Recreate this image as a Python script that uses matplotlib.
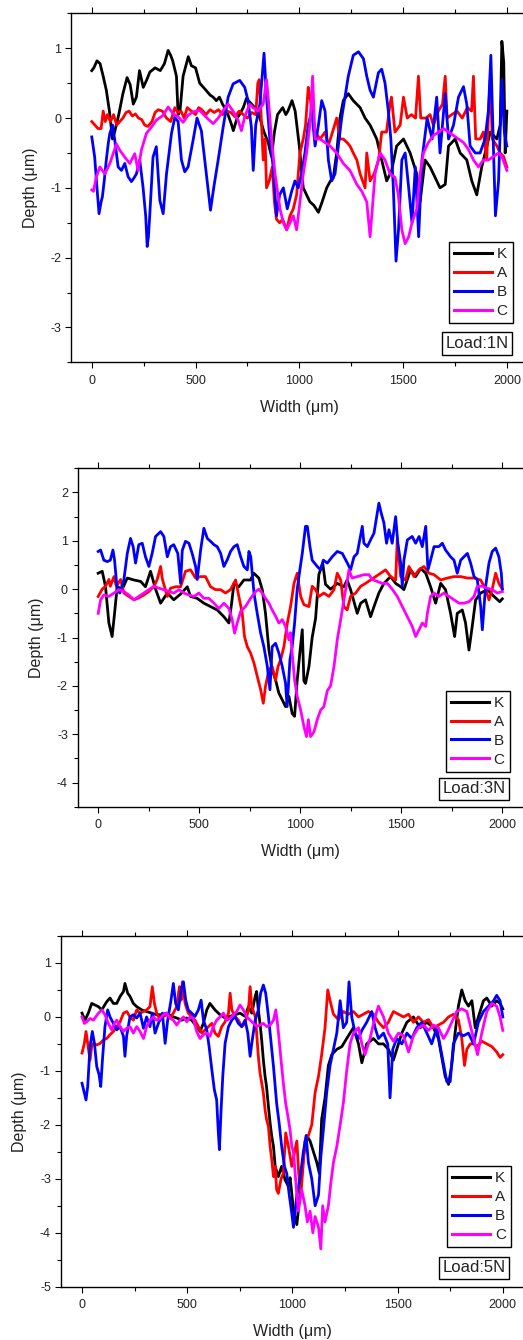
import numpy as np
import matplotlib
matplotlib.use('Agg')
import matplotlib.pyplot as plt
from matplotlib.ticker import MultipleLocator

plt.rcParams['font.family'] = ['Liberation Sans', 'DejaVu Sans']
plt.rcParams['axes.unicode_minus'] = False

# ---- profiles: (width um, depth um) ----
# Load 1N
p1_K = [(0,0.68),(10,0.72),(25,0.82),(40,0.78),(55,0.6),(70,0.4),(85,0.1),(100,-0.3),(110,-0.2),(130,0.05),
        (150,0.35),(170,0.58),(185,0.48),(200,0.2),(215,0.3),(230,0.68),(248,0.44),(265,0.55),(280,0.66),(305,0.72),
        (330,0.68),(350,0.78),(368,0.97),(380,0.9),(390,0.82),(408,0.6),(416,0.05),(425,0.1),(440,0.6),(465,0.88),
        (480,0.75),(500,0.72),(520,0.5),(550,0.4),(570,0.33),(585,0.3),(600,0.25),(615,0.3),(630,0.2),(650,0.1),
        (672,-0.08),(682,-0.18),(700,0.0),(712,0.05),(730,0.15),(745,0.28),(770,0.2),(800,0.1),(830,-0.2),(850,-0.35),
        (866,-0.55),(880,-0.2),(895,0.05),(920,0.15),(935,0.05),(945,0.1),(965,0.25),(980,0.1),(1000,-0.4),(1019,-1.0),
        (1035,-1.1),(1051,-1.2),(1070,-1.25),(1092,-1.35),(1110,-1.2),(1132,-1.0),(1150,-0.9),(1164,-0.85),(1180,-0.5),
        (1196,0.0),(1212,0.25),(1236,0.35),(1260,0.25),(1293,0.15),(1317,0.0),(1341,-0.1),(1373,-0.3),(1397,-0.6),
        (1421,-0.9),(1445,-0.75),(1469,-0.4),(1502,-0.3),(1534,-0.5),(1566,-0.8),(1582,-1.2),(1606,-0.6),(1630,-0.7),
        (1654,-0.85),(1678,-1.0),(1703,-0.95),(1719,-0.4),(1751,-0.3),(1775,-0.5),(1807,-0.6),(1831,-0.9),(1855,-1.1),
        (1879,-0.7),(1920,-0.2),(1952,-0.3),(1968,-0.1),(1976,1.1),(1985,0.8),(1992,-0.5),(2000,0.1)]
p1_A = [(0,-0.05),(15,-0.1),(30,-0.15),(45,-0.15),(55,0.1),(65,-0.05),(75,0.05),(90,-0.05),(105,0.05),(120,-0.1),
        (135,-0.05),(150,0.0),(165,0.08),(180,0.1),(195,0.03),(210,0.06),(225,0.0),(240,-0.02),(255,-0.1),(270,-0.12),
        (290,-0.05),(305,0.08),(320,0.12),(340,0.1),(360,0.0),(380,-0.05),(400,0.15),(415,0.08),(430,0.1),(445,0.0),
        (460,0.15),(480,0.1),(500,0.05),(515,0.15),(530,0.12),(550,0.05),(570,0.12),(590,0.08),(610,0.12),(630,0.05),
        (650,0.1),(670,0.08),(690,0.02),(710,0.1),(730,0.05),(750,0.0),(770,0.08),(790,0.05),(800,0.5),(807,0.55),
        (815,0.1),(826,-0.6),(835,-0.3),(842,-1.0),(855,-0.9),(870,-0.7),(880,-1.2),(890,-1.45),(905,-1.5),(920,-1.45),
        (939,-1.6),(955,-1.4),(971,-1.3),(987,-1.1),(1003,-0.5),(1019,-0.3),(1030,-0.1),(1043,0.44),(1051,0.3),(1060,0.16),
        (1076,-0.2),(1100,-0.3),(1124,-0.2),(1139,-0.4),(1160,-0.2),(1180,0.0),(1196,-0.3),(1212,-0.3),(1230,-0.35),
        (1244,-0.4),(1260,-0.5),(1277,-0.6),(1293,-0.8),(1317,-1.0),(1325,-0.5),(1341,-0.9),(1360,-0.8),(1382,-0.6),
        (1397,-0.2),(1420,-0.2),(1437,0.2),(1444,0.3),(1461,-0.2),(1486,-0.1),(1502,0.3),(1520,0.0),(1540,0.05),
        (1560,0.0),(1574,0.6),(1585,0.0),(1610,0.0),(1630,0.05),(1646,-0.1),(1670,0.1),(1690,0.2),(1703,0.6),(1712,0.0),
        (1735,0.05),(1760,0.1),(1785,0.0),(1810,0.15),(1830,0.1),(1839,0.6),(1850,-0.3),(1871,-0.3),(1887,-0.2),
        (1903,-0.6),(1912,0.1),(1920,0.55),(1930,-0.3),(1952,-0.4),(1968,-0.5),(1984,-0.55),(2000,-0.7)]
p1_B = [(0,-0.27),(14,-0.56),(25,-1.0),(35,-1.37),(45,-1.2),(51,-1.13),(60,-0.9),(70,-0.6),(80,-0.35),(87,-0.22),
        (100,-0.1),(111,-0.32),(127,-0.7),(143,-0.75),(159,-0.65),(175,-0.84),(191,-0.91),(205,-0.85),(215,-0.8),
        (231,-0.6),(247,-0.99),(260,-1.41),(267,-1.84),(273,-1.7),(279,-1.41),(295,-0.56),(311,-0.41),(328,-1.18),
        (344,-1.37),(360,-0.8),(384,-0.22),(400,0.01),(416,-0.05),(432,-0.6),(448,-0.77),(464,-0.7),(488,-0.32),
        (507,0.0),(528,-0.18),(552,-0.8),(572,-1.32),(588,-0.99),(609,-0.6),(633,-0.13),(657,0.3),(681,0.49),(700,0.52),
        (713,0.54),(737,0.44),(753,0.25),(769,-0.13),(778,-0.75),(790,-0.1),(810,0.2),(830,0.93),(842,0.3),(858,-0.3),
        (874,-0.7),(890,-1.4),(905,-1.1),(923,-1.0),(942,-1.3),(963,-1.05),(979,-0.9),(995,-1.0),(1011,-0.8),(1027,-0.5),
        (1043,-0.1),(1060,0.1),(1076,-0.4),(1092,-0.1),(1108,0.25),(1124,0.1),(1140,-0.6),(1156,-0.9),(1172,-0.8),
        (1188,-0.4),(1204,0.0),(1220,0.3),(1236,0.6),(1260,0.9),(1285,0.95),(1309,0.85),(1325,0.6),(1341,0.4),(1357,0.3),
        (1381,0.65),(1397,0.7),(1413,0.5),(1429,0.1),(1441,-0.3),(1453,-1.0),(1466,-2.05),(1478,-1.6),(1494,-0.6),
        (1510,-0.5),(1527,-1.0),(1543,-1.5),(1559,-0.7),(1575,-1.7),(1591,-0.6),(1616,0.0),(1640,-0.3),(1662,0.3),
        (1678,-0.5),(1703,0.35),(1719,-0.3),(1743,-0.1),(1767,0.3),(1791,0.45),(1807,0.2),(1823,-0.4),(1848,-0.5),
        (1871,-0.5),(1895,-0.3),(1911,0.1),(1923,0.9),(1936,-0.5),(1945,-1.4),(1960,-0.9),(1976,0.55),(1988,-0.2),
        (2000,-0.4)]
p1_C = [(0,-1.03),(8,-1.05),(22,-0.84),(39,-0.7),(63,-0.8),(87,-0.65),(103,-0.51),(119,-0.37),(135,-0.46),(159,-0.56),
        (183,-0.65),(207,-0.51),(223,-0.75),(239,-0.46),(263,-0.22),(287,-0.13),(311,-0.03),(344,0.04),(368,0.16),
        (392,0.06),(416,0.02),(440,-0.06),(464,0.04),(488,0.09),(520,0.11),(552,0.01),(585,-0.08),(609,0.0),(633,0.11),
        (657,0.2),(681,0.1),(705,-0.03),(721,-0.18),(737,0.02),(761,0.2),(777,0.15),(800,0.1),(826,0.2),(842,0.55),
        (850,0.3),(866,-0.3),(883,-0.8),(907,-1.3),(923,-1.5),(939,-1.6),(955,-1.5),(971,-1.4),(987,-1.6),(1003,-1.2),
        (1019,-0.8),(1035,-0.5),(1051,-0.1),(1064,0.6),(1076,-0.3),(1100,-0.3),(1124,-0.35),(1148,-0.4),(1180,-0.5),
        (1212,-0.65),(1244,-0.75),(1277,-0.95),(1301,-1.05),(1325,-1.2),(1341,-1.7),(1349,-1.4),(1365,-0.8),(1389,-0.5),
        (1413,-0.6),(1437,-0.8),(1461,-0.85),(1477,-1.1),(1494,-1.6),(1510,-1.8),(1527,-1.7),(1543,-1.5),(1566,-1.3),
        (1582,-0.8),(1598,-0.5),(1622,-0.35),(1646,-0.25),(1670,-0.2),(1695,-0.15),(1719,-0.2),(1743,-0.25),(1767,-0.3),
        (1791,-0.35),(1815,-0.45),(1839,-0.6),(1863,-0.7),(1887,-0.6),(1911,-0.6),(1936,-0.55),(1960,-0.5),(1976,-0.55),
        (2000,-0.75)]

# Load 3N
p2_K = [(0,0.33),(20,0.37),(36,0.06),(53,-0.7),(69,-0.98),(81,-0.5),(94,0.05),(119,0.0),(144,0.23),(177,0.19),
        (210,0.16),(234,0.05),(259,0.37),(284,0.0),(309,-0.29),(342,-0.08),(374,-0.22),(408,-0.1),(441,0.05),(457,-0.15),
        (490,-0.19),(523,-0.29),(556,-0.36),(589,-0.43),(622,-0.57),(647,-0.7),(660,-0.3),(672,0.12),(696,0.05),(721,0.19),
        (754,0.19),(770,0.33),(795,0.23),(812,-0.01),(828,-0.5),(845,-1.26),(861,-1.67),(878,-1.88),(894,-2.15),
        (911,-2.29),(927,-2.43),(944,-2.22),(960,-2.57),(972,-2.63),(985,-1.88),(998,-1.32),(1010,-0.84),(1018,-1.9),
        (1026,-1.95),(1043,-1.6),(1059,-1.0),(1076,-0.6),(1092,0.3),(1111,0.54),(1125,0.1),(1150,0.0),(1183,0.12),
        (1216,0.05),(1232,0.19),(1249,-0.01),(1282,-0.5),(1299,-0.29),(1323,-0.22),(1348,-0.57),(1365,-0.36),(1389,-0.08),
        (1414,0.12),(1447,0.26),(1472,0.12),(1497,0.05),(1513,-0.01),(1546,0.4),(1571,0.26),(1596,0.43),(1621,0.33),
        (1645,0.05),(1670,-0.29),(1695,0.12),(1719,-0.01),(1744,-0.5),(1764,-0.98),(1777,-0.5),(1802,-0.43),(1818,-0.7),
        (1835,-1.26),(1851,-0.77),(1868,-0.22),(1893,-0.08),(1926,-0.01),(1959,-0.15),(1987,-0.26),(2000,-0.2)]
p2_A = [(0,-0.15),(20,0.0),(36,0.06),(53,0.2),(60,0.06),(78,0.26),(90,0.06),(111,0.2),(127,-0.08),(152,-0.15),
        (177,-0.22),(201,-0.18),(226,-0.12),(251,-0.05),(276,0.06),(292,0.2),(309,0.47),(318,0.2),(342,-0.15),(358,0.02),
        (383,0.05),(408,0.05),(432,0.37),(457,0.4),(482,0.23),(507,0.26),(531,0.26),(556,0.05),(581,-0.01),(606,-0.01),
        (630,-0.08),(655,-0.01),(680,0.19),(696,-0.15),(713,-0.5),(724,-0.98),(738,-1.19),(754,-1.32),(771,-1.53),
        (787,-1.8),(804,-2.08),(817,-2.36),(828,-2.01),(845,-1.67),(861,-1.6),(878,-1.88),(890,-1.6),(903,-1.46),
        (919,-1.19),(936,-0.7),(952,-0.36),(969,0.12),(985,0.33),(1002,-0.15),(1018,-0.32),(1043,-0.36),(1059,0.06),
        (1076,-0.01),(1092,-0.15),(1117,-0.08),(1142,-0.15),(1167,-0.01),(1183,0.33),(1200,0.19),(1216,-0.36),
        (1232,-0.43),(1249,-0.15),(1274,-0.08),(1299,0.06),(1323,0.12),(1348,0.19),(1373,0.26),(1398,0.33),(1422,0.4),
        (1447,0.26),(1472,0.19),(1480,1.02),(1488,0.68),(1497,0.26),(1521,0.19),(1538,0.47),(1563,0.26),(1587,0.4),
        (1612,0.47),(1637,0.33),(1662,0.3),(1695,0.19),(1728,0.23),(1761,0.26),(1794,0.26),(1827,0.23),(1860,0.23),
        (1893,0.19),(1917,0.0),(1934,-0.22),(1950,0.0),(1967,0.33),(1983,0.12),(2000,0.0)]
p2_B = [(0,0.78),(12,0.81),(28,0.6),(45,0.57),(60,0.6),(73,0.81),(81,0.6),(94,-0.01),(107,-0.08),(127,0.19),
        (144,0.74),(160,1.05),(173,0.88),(185,0.54),(201,0.92),(218,0.95),(234,0.67),(251,0.47),(267,0.74),(284,1.09),
        (309,1.19),(325,1.09),(342,0.67),(358,0.88),(374,0.92),(394,0.74),(408,0.12),(416,0.8),(432,0.99),(449,0.95),
        (465,0.74),(482,0.47),(490,0.2),(507,0.81),(523,1.26),(540,1.05),(556,0.99),(573,0.92),(589,0.88),(606,0.74),
        (622,0.47),(639,0.61),(655,0.78),(672,0.88),(688,0.92),(705,0.67),(721,0.47),(738,0.4),(746,0.78),(755,0.67),
        (771,-0.08),(787,-0.5),(804,-0.91),(820,-1.19),(837,-1.6),(850,-2.08),(861,-1.19),(878,-1.12),(894,-1.32),
        (911,-1.6),(927,-1.94),(935,-2.43),(949,-1.46),(960,-1.19),(972,-0.7),(985,0.0),(998,0.4),(1010,0.74),(1026,1.3),
        (1035,1.3),(1048,0.88),(1059,0.6),(1084,0.47),(1101,0.4),(1114,0.6),(1134,0.54),(1158,0.67),(1183,0.78),
        (1208,0.74),(1233,0.54),(1249,0.4),(1266,0.67),(1282,0.74),(1307,1.3),(1315,0.95),(1332,0.88),(1348,1.02),
        (1365,1.16),(1389,1.78),(1401,1.57),(1414,1.37),(1427,0.95),(1439,1.23),(1455,0.95),(1472,1.5),(1483,0.95),
        (1497,0.54),(1505,0.06),(1513,0.6),(1530,1.02),(1554,1.09),(1571,0.95),(1588,1.09),(1604,0.88),(1621,1.3),
        (1632,0.4),(1645,0.6),(1662,0.88),(1686,0.88),(1703,0.95),(1719,0.81),(1744,0.67),(1761,0.6),(1777,0.33),
        (1794,0.6),(1810,0.67),(1827,0.74),(1843,0.54),(1860,0.26),(1876,0.2),(1893,-0.36),(1901,-0.84),(1909,-0.4),
        (1917,0.05),(1934,0.54),(1950,0.78),(1967,0.85),(1983,0.67),(1995,0.33),(2000,0.0)]
p2_C = [(0,-0.5),(12,-0.22),(28,-0.12),(53,-0.15),(78,-0.08),(102,-0.01),(127,-0.05),(152,-0.12),(177,-0.22),
        (201,-0.15),(226,-0.08),(251,-0.01),(276,0.06),(300,0.02),(325,-0.01),(350,-0.05),(375,-0.08),(399,-0.01),
        (424,-0.08),(449,-0.12),(474,-0.15),(498,-0.08),(523,-0.19),(548,-0.19),(573,-0.29),(597,-0.4),(622,-0.29),
        (647,-0.4),(663,-0.63),(675,-0.91),(688,-0.7),(705,-0.46),(729,-0.36),(754,-0.19),(779,-0.05),(795,0.0),
        (812,-0.08),(828,-0.19),(845,-0.29),(861,-0.43),(878,-0.56),(894,-0.7),(911,-0.63),(927,-0.77),(944,-1.05),
        (952,-0.9),(960,-1.32),(972,-1.88),(985,-2.22),(1002,-2.5),(1018,-2.84),(1031,-3.05),(1040,-2.7),(1051,-3.05),
        (1068,-2.95),(1084,-2.7),(1101,-2.5),(1117,-2.43),(1134,-2.1),(1150,-2.0),(1167,-1.6),(1183,-1.05),(1200,-0.63),
        (1216,-0.22),(1233,0.19),(1241,0.4),(1257,0.23),(1282,0.26),(1315,0.3),(1340,0.3),(1356,0.2),(1381,0.16),
        (1406,0.12),(1431,0.12),(1455,0.0),(1480,-0.15),(1505,-0.36),(1530,-0.57),(1554,-0.77),(1571,-0.98),(1588,-0.84),
        (1604,-0.7),(1621,-0.77),(1629,-0.5),(1645,-0.15),(1662,-0.08),(1686,-0.15),(1711,-0.08),(1736,-0.15),
        (1761,-0.22),(1786,-0.29),(1810,-0.29),(1835,-0.26),(1860,-0.15),(1876,0.06),(1901,0.06),(1926,0.02),
        (1950,-0.01),(1975,-0.08),(2000,-0.05)]

# Load 5N
p3_K = [(0,0.07),(14,-0.06),(30,0.07),(46,0.25),(62,0.22),(78,0.19),(94,0.13),(117,0.28),(133,0.35),(149,0.25),
        (165,0.25),(181,0.38),(197,0.47),(204,0.62),(217,0.44),(228,0.38),(244,0.25),(260,0.19),(284,0.13),(307,0.1),
        (331,0.07),(355,0.04),(379,0.04),(403,0.07),(426,0.01),(450,-0.02),(474,-0.06),(497,-0.02),(521,-0.06),
        (545,-0.18),(561,-0.27),(577,-0.12),(593,0.13),(608,0.25),(632,0.13),(656,0.04),(680,-0.02),(703,0.01),(727,0.04),
        (751,0.07),(775,0.01),(791,0.19),(807,0.07),(823,0.38),(830,0.47),(838,0.13),(846,-0.12),(854,-0.43),(862,-0.8),
        (870,-1.1),(877,-1.29),(886,-1.66),(894,-1.97),(902,-2.22),(910,-2.4),(918,-2.77),(933,-2.96),(949,-2.77),
        (965,-3.02),(981,-3.14),(989,-2.98),(997,-3.27),(1005,-3.6),(1021,-3.85),(1036,-3.3),(1052,-2.6),(1068,-2.2),
        (1084,-2.3),(1100,-2.5),(1116,-2.7),(1128,-2.9),(1139,-1.9),(1155,-1.5),(1171,-0.9),(1187,-0.7),(1211,-0.6),
        (1235,-0.55),(1258,-0.4),(1290,-0.2),(1314,-0.5),(1330,-0.85),(1353,-0.5),(1385,-0.4),(1409,-0.5),(1433,-0.5),
        (1456,-0.6),(1480,-0.8),(1496,-0.6),(1520,-0.3),(1544,-0.1),(1575,0.0),(1607,-0.2),(1639,-0.1),(1670,-0.2),
        (1694,-0.4),(1710,-0.75),(1726,-1.1),(1742,-1.25),(1757,-0.9),(1773,-0.3),(1789,0.2),(1805,0.5),(1821,0.3),
        (1837,0.2),(1853,0.3),(1869,-0.2),(1884,0.0),(1908,0.3),(1924,0.35),(1948,0.2),(1971,0.3),(1987,0.25),(2000,0.15)]
p3_A = [(0,-0.67),(11,-0.49),(19,-0.27),(27,-0.49),(38,-0.8),(46,-0.55),(54,-0.49),(70,-0.52),(86,-0.49),(101,-0.43),
        (117,-0.4),(133,-0.33),(149,-0.27),(165,-0.18),(181,-0.09),(197,0.07),(213,0.1),(228,0.0),(244,-0.06),(260,0.13),
        (276,0.07),(292,0.1),(307,0.13),(323,0.19),(334,0.56),(344,0.25),(355,0.07),(371,-0.06),(387,0.01),(403,0.04),
        (418,-0.02),(434,0.07),(450,0.19),(463,0.56),(471,0.31),(477,0.65),(490,0.25),(505,0.07),(521,0.01),(537,-0.06),
        (553,-0.18),(569,-0.3),(585,-0.24),(601,-0.18),(617,-0.12),(632,-0.3),(648,-0.36),(664,-0.18),(680,-0.09),
        (696,0.07),(704,0.44),(712,0.13),(727,0.01),(743,-0.06),(759,-0.18),(775,-0.12),(791,0.13),(799,0.56),(807,0.19),
        (823,0.01),(830,-0.3),(838,-0.73),(846,-1.04),(854,-1.23),(862,-1.41),(870,-1.72),(877,-1.9),(886,-2.03),
        (894,-2.4),(902,-2.65),(910,-2.96),(918,-2.77),(925,-3.2),(933,-3.27),(946,-3.0),(957,-2.9),(968,-2.15),
        (981,-2.4),(997,-2.77),(1005,-2.6),(1021,-2.3),(1030,-2.9),(1040,-3.3),(1050,-2.8),(1060,-2.3),(1076,-2.2),
        (1092,-2.0),(1108,-1.4),(1124,-1.1),(1139,-0.7),(1155,-0.2),(1168,0.5),(1179,0.3),(1195,0.05),(1219,-0.05),
        (1242,0.1),(1266,0.05),(1290,0.1),(1314,0.0),(1338,0.05),(1361,0.1),(1385,0.05),(1409,-0.1),(1433,-0.2),
        (1456,-0.1),(1480,0.1),(1504,0.05),(1528,0.0),(1552,0.05),(1575,-0.1),(1599,0.0),(1623,-0.1),(1647,-0.05),
        (1670,-0.2),(1694,-0.15),(1718,-0.1),(1742,0.0),(1766,0.05),(1789,-0.05),(1805,-0.4),(1818,-0.9),(1829,-0.6),
        (1845,-0.5),(1861,-0.5),(1877,-0.55),(1900,-0.45),(1924,-0.5),(1948,-0.55),(1971,-0.65),(1987,-0.75),(2000,-0.7)]
p3_B = [(0,-1.23),(11,-1.41),(19,-1.54),(27,-1.29),(38,-0.55),(49,-0.27),(59,-0.49),(70,-0.92),(81,-1.07),(89,-1.29),
        (97,-0.8),(109,-0.18),(122,0.13),(133,0.0),(149,-0.12),(165,-0.24),(181,-0.18),(197,-0.36),(204,-0.73),(212,-0.36),
        (228,0.0),(244,0.04),(260,-0.02),(276,0.07),(292,-0.21),(307,0.0),(323,-0.18),(334,0.07),(347,-0.3),(363,-0.12),
        (382,0.07),(395,-0.49),(407,-0.06),(423,0.31),(434,0.62),(445,0.25),(458,0.13),(471,0.5),(482,0.65),(493,0.31),
        (505,0.13),(521,0.07),(537,0.01),(553,0.13),(566,0.31),(577,-0.06),(593,-0.24),(604,-0.55),(617,-0.98),
        (629,-1.35),(640,-1.54),(648,-2.15),(653,-2.46),(661,-1.72),(669,-1.1),(680,-0.49),(696,-0.18),(712,-0.06),
        (727,0.01),(743,-0.12),(759,-0.18),(775,-0.06),(788,-0.3),(799,-0.73),(807,-0.49),(823,-0.06),(838,0.13),
        (849,0.44),(862,0.59),(873,0.44),(886,0.01),(899,-0.49),(910,-0.92),(918,-1.29),(925,-1.6),(937,-1.97),
        (949,-2.4),(962,-2.77),(973,-2.9),(984,-3.27),(997,-3.64),(1005,-3.9),(1021,-3.3),(1036,-3.0),(1052,-2.5),
        (1065,-2.2),(1076,-2.7),(1092,-3.0),(1108,-3.5),(1124,-3.3),(1135,-2.6),(1147,-2.1),(1163,-1.4),(1179,-0.9),
        (1195,-0.6),(1211,-0.3),(1227,0.3),(1242,-0.2),(1258,-0.1),(1269,0.65),(1282,0.0),(1298,-0.3),(1314,-0.4),
        (1330,-0.25),(1353,-0.1),(1377,0.1),(1393,-0.2),(1409,-0.4),(1433,-0.3),(1453,-0.5),(1464,-1.5),(1477,-0.6),
        (1496,-0.4),(1520,-0.5),(1544,-0.3),(1567,-0.4),(1591,-0.2),(1615,-0.1),(1639,-0.3),(1662,-0.5),(1686,-0.2),
        (1710,-0.7),(1734,-1.2),(1750,-1.2),(1765,-0.5),(1789,-0.3),(1813,-0.35),(1837,-0.3),(1861,-0.5),(1884,-0.1),
        (1908,0.1),(1932,0.2),(1956,0.3),(1971,0.4),(1987,0.3),(2000,0.0)]
p3_C = [(0,0.0),(11,-0.12),(22,-0.09),(38,-0.03),(54,-0.06),(78,0.07),(94,0.13),(109,0.04),(125,-0.12),(141,-0.24),
        (154,-0.12),(165,-0.06),(181,-0.18),(197,-0.27),(212,-0.21),(228,-0.18),(244,-0.3),(260,-0.18),(276,-0.27),
        (292,-0.4),(307,-0.18),(323,-0.06),(339,0.0),(355,-0.06),(371,-0.03),(387,0.04),(403,0.07),(418,-0.02),(434,-0.06),
        (450,-0.15),(466,-0.06),(482,0.0),(498,-0.09),(513,0.0),(529,-0.03),(545,-0.27),(561,-0.4),(577,-0.33),(593,-0.3),
        (608,-0.36),(624,-0.18),(640,-0.06),(656,0.0),(672,0.07),(688,-0.06),(704,-0.03),(720,0.04),(735,0.1),(751,0.22),
        (767,0.13),(783,0.0),(799,-0.06),(815,-0.12),(830,-0.18),(846,-0.15),(862,-0.12),(878,-0.18),(894,-0.15),
        (910,-0.06),(921,0.13),(929,-0.12),(937,-0.43),(946,-0.8),(957,-1.23),(968,-1.6),(981,-1.9),(989,-2.1),
        (997,-2.4),(1005,-2.5),(1013,-2.9),(1021,-3.3),(1028,-3.6),(1044,-3.2),(1060,-3.5),(1071,-3.8),(1084,-3.6),
        (1097,-4.0),(1108,-3.7),(1124,-3.9),(1135,-4.3),(1144,-3.5),(1155,-3.8),(1171,-3.5),(1182,-3.1),(1195,-2.7),
        (1211,-2.4),(1227,-2.0),(1242,-1.6),(1258,-1.0),(1274,-0.5),(1290,-0.3),(1314,-0.2),(1330,-0.5),(1345,-0.7),
        (1369,-0.4),(1393,0.0),(1409,0.2),(1433,0.0),(1456,-0.3),(1480,-0.45),(1504,-0.3),(1528,-0.35),(1552,-0.65),
        (1575,-0.35),(1599,-0.2),(1623,-0.15),(1647,-0.25),(1670,-0.15),(1694,-0.2),(1718,-0.4),(1734,-0.3),(1757,-0.1),
        (1781,0.1),(1805,0.15),(1829,0.1),(1845,-0.15),(1861,-0.4),(1880,-0.7),(1900,-0.3),(1924,0.1),(1948,0.25),
        (1971,0.2),(1987,0.0),(2000,-0.25)]

names = ['K', 'A', 'B', 'C']
colors = ['#000000', '#ff0000', '#0000ff', '#ff00ff']
loads = ['Load:1N', 'Load:3N', 'Load:5N']
ylims = [(-3.5, 1.5), (-4.5, 2.5), (-5, 1.5)]
panels = [[p1_K, p1_A, p1_B, p1_C], [p2_K, p2_A, p2_B, p2_C], [p3_K, p3_A, p3_B, p3_C]]

# axes boxes [left, bottom, width, height]; right side runs off the figure like the source
boxes = [[0.1358, 0.7296, 0.873, 0.2604],
         [0.1491, 0.3980, 0.850, 0.2525],
         [0.1166, 0.0398, 0.885, 0.2617]]
legend_anchor = [(0.968, 0.345), (0.972, 0.343), (0.9726, 0.344)]
load_pos = [(0.889, 0.054), (0.891, 0.053), (0.8926, 0.054)]

txt = '#222222'
fig = plt.figure(figsize=(5.23, 13.4), dpi=100)

for i in range(3):
    ax = fig.add_axes(boxes[i])
    for name, col, pts in zip(names, colors, panels[i]):
        x, y = zip(*pts)
        ax.plot(x, y, color=col, lw=2.0, label=name)
    ax.set_xlim(-100, 2100)
    ax.set_ylim(*ylims[i])
    ax.xaxis.set_major_locator(MultipleLocator(500))
    ax.xaxis.set_minor_locator(MultipleLocator(250))
    ax.yaxis.set_major_locator(MultipleLocator(1))
    ax.yaxis.set_minor_locator(MultipleLocator(0.5))
    ax.tick_params(which='both', direction='out', top=True, right=False,
                   labeltop=False, width=0.8, colors='black', labelcolor=txt, labelsize=9)
    ax.tick_params(which='major', length=4.2)
    ax.tick_params(which='minor', length=2.6)
    ax.tick_params(axis='x', pad=5)
    ax.tick_params(axis='y', pad=3)
    for s in ax.spines.values():
        s.set_linewidth(1.0)
    ax.spines['right'].set_visible(False)
    ax.set_xlabel('Width (μm)', fontsize=11.5, color=txt, labelpad=9)
    ax.set_ylabel('Depth (μm)', fontsize=11.5, color=txt, labelpad=9)

    leg = ax.legend(loc='upper right', bbox_to_anchor=legend_anchor[i], borderaxespad=0,
                    fontsize=11, fancybox=False, edgecolor='black', framealpha=1,
                    handlelength=2.5, handletextpad=0.3, labelspacing=0.32, borderpad=0.35,
                    labelcolor=txt)
    leg.get_frame().set_linewidth(1.0)
    for h in leg.get_lines():
        h.set_linewidth(2.2)

    ax.text(load_pos[i][0], load_pos[i][1], loads[i], transform=ax.transAxes,
            ha='center', va='center', fontsize=12, color=txt,
            bbox=dict(boxstyle='square,pad=0.22', fc='white', ec='black', lw=1.0))

fig.savefig('out.png', dpi=100)
